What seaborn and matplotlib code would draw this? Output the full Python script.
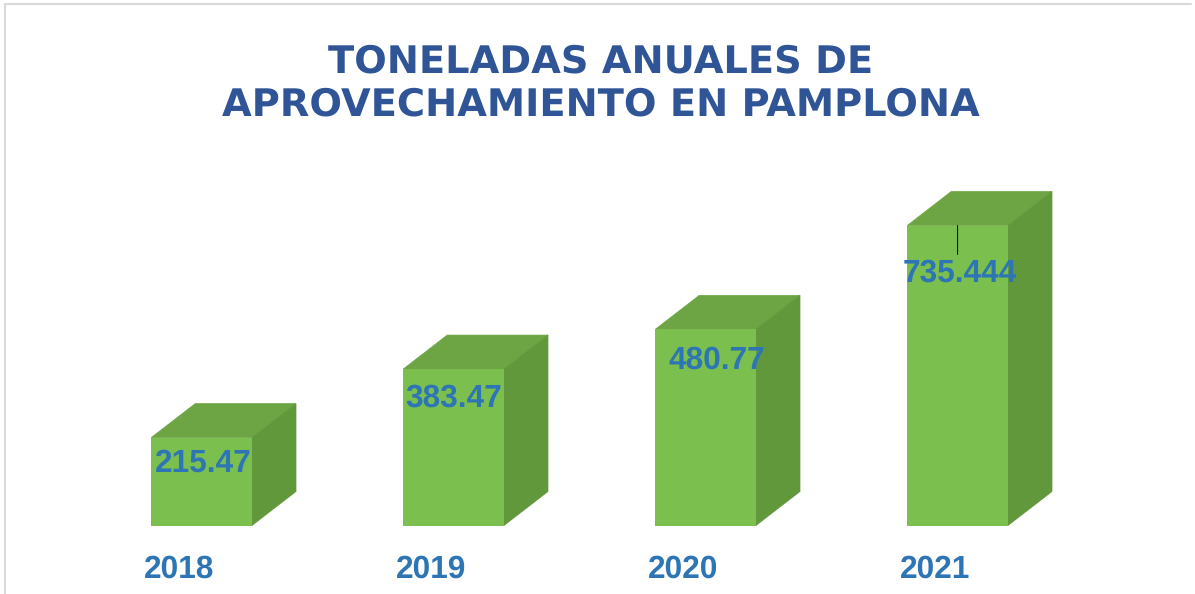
import matplotlib
matplotlib.use('Agg')
import matplotlib.pyplot as plt
from matplotlib.lines import Line2D
from matplotlib.patches import Polygon
from matplotlib.transforms import ScaledTranslation
import pandas as pd
import seaborn as sns

# datos
years = ['2018', '2019', '2020', '2021']
values = [215.47, 383.47, 480.77, 735.444]
value_labels = ['215.47', '383.47', '480.77', '735.444']
title_lines = 'TONELADAS ANUALES DE\nAPROVECHAMIENTO EN PAMPLONA'

# ajustes manuales de las etiquetas, en pixeles
label_offsets = [(2, -26), (0, -29), (11, -31), (2, -48)]

W, H = 1195, 594
DPI = 100
BLUE = '#2E75B6'
FRONT = '#7BBF4E'
TOP = '#6DA544'
SIDE = '#62983C'

sns.set_theme(style='white')
plt.rcParams['font.family'] = ['Liberation Sans', 'DejaVu Sans']
plt.rcParams['text.hinting'] = 'no_hinting'
plt.rcParams['text.hinting_factor'] = 8

fig = plt.figure(figsize=(W / DPI, H / DPI), dpi=DPI)
fig.patch.set_facecolor('white')

# eje colocado en pixeles: base en y=525, categorias cada 252 px
ax_left, ax_right = 75.6, 1083.6
ax_bottom, ax_top = 525.5, 150.5
ax = fig.add_axes([ax_left / W, 1 - ax_bottom / H,
                   (ax_right - ax_left) / W, (ax_bottom - ax_top) / H])

df = pd.DataFrame({'year': years, 'value': values})
sns.barplot(data=df, x='year', y='value', color=FRONT, saturation=1, width=0.4,
            linewidth=0, edgecolor='none', ax=ax, zorder=3)
ax.set_xlim(-0.5, 3.5)
ax.set_ylim(0, 375 / (300 / 735.444))
ax.set_xlabel('')
ax.set_ylabel('')
ax.set_yticks([])
ax.patch.set_alpha(0)
sns.despine(ax=ax, left=True, bottom=True)

# caras superior y lateral de cada barra
depth_x = 44 * (ax.get_xlim()[1] - ax.get_xlim()[0]) / (ax_right - ax_left)
depth_y = 34 * ax.get_ylim()[1] / (ax_bottom - ax_top)
for bar in ax.patches[:len(years)]:
    x0 = bar.get_x()
    x1 = x0 + bar.get_width()
    h = bar.get_height()
    ax.add_patch(Polygon([(x0, h), (x1, h), (x1 + depth_x, h + depth_y), (x0 + depth_x, h + depth_y)],
                         closed=True, facecolor=TOP, edgecolor=TOP, lw=0.5, zorder=2))
    ax.add_patch(Polygon([(x1, 0), (x1, h), (x1 + depth_x, h + depth_y), (x1 + depth_x, depth_y)],
                         closed=True, facecolor=SIDE, edgecolor=SIDE, lw=0.5, zorder=2))

# etiquetas de valores
for i, (val, txt, off) in enumerate(zip(values, value_labels, label_offsets)):
    ax.annotate(txt, xy=(i, val), xytext=off, textcoords='offset pixels',
                ha='center', va='center', fontsize=22.8, fontweight='bold',
                color=BLUE, zorder=5)

# linea guia de la ultima etiqueta
ax.annotate('', xy=(3, values[3]), xytext=(0, -29), textcoords='offset pixels',
            arrowprops=dict(arrowstyle='-', color='black', lw=0.72, shrinkA=0, shrinkB=0),
            zorder=6)

# etiquetas del eje, corridas a la izquierda como en el original
ax.tick_params(axis='x', length=0, pad=0)
ax.set_xticks(range(len(years)))
ax.set_xticklabels(years, fontsize=22.8, fontweight='bold', color=BLUE)
shift = ScaledTranslation(-22.5 / DPI, -29 / DPI, fig.dpi_scale_trans)
for lab in ax.get_xticklabels():
    lab.set_transform(lab.get_transform() + shift)

fig.text(601 / W, 1 - 83.5 / H, title_lines, ha='center', va='center', fontsize=27.6,
         fontweight='bold', color='#2F5597', family='DejaVu Sans', linespacing=1.2)

# borde del grafico
border = '#D9D9D9'
fig.add_artist(Line2D([5 / W, 5 / W], [0, 1 - 3.5 / H], color=border, lw=1.5))
fig.add_artist(Line2D([5 / W, 1191 / W], [1 - 3.5 / H, 1 - 3.5 / H], color=border, lw=1.5))

fig.savefig('out.png', dpi=DPI)
